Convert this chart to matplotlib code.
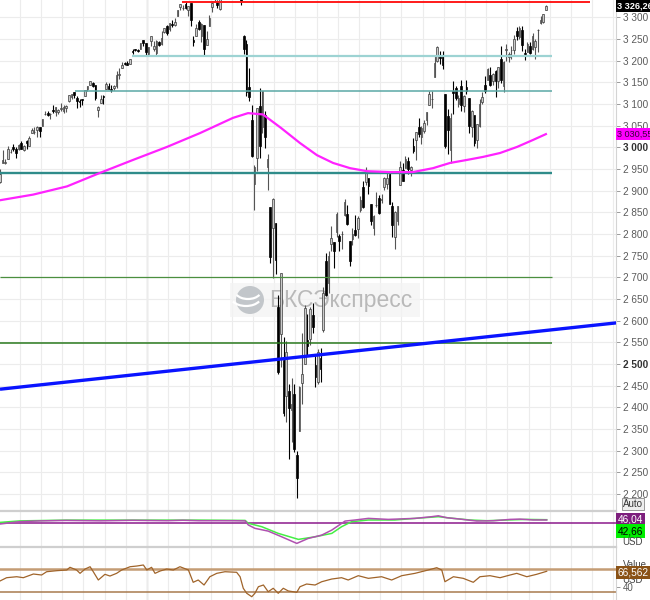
import numpy as np
import matplotlib
matplotlib.use("Agg")
import matplotlib.pyplot as plt
from matplotlib.patches import Rectangle, Ellipse, Arc

plt.rcParams["font.family"] = ["Liberation Sans", "DejaVu Sans"]

# Daily candles, 10 Oct 2019 .. 5 Aug 2020
open_ = [
    2919, 2964, 2965, 2974, 2990, 3001, 2996, 2996, 3011, 2994, 3014, 3003, 3033, 3036, 3039, 3047,
    3050, 3078, 3080, 3076, 3087, 3082, 3081, 3089, 3084, 3090, 3107, 3117, 3128, 3114, 3108, 3112, 3118, 3135, 3145, 3148,
    3144, 3087, 3103, 3119, 3135, 3141, 3135, 3136, 3141, 3166, 3183, 3195, 3195, 3192, 3223, 3226, 3225, 3227, 3248, 3240, 3216,
    3245, 3226, 3218, 3242, 3239, 3267, 3281, 3272, 3285, 3282, 3302, 3324, 3321, 3330, 3316, 3333, 3248, 3256, 3289, 3256, 3282,
    3236, 3281, 3325, 3344, 3335, 3319, 3365, 3370, 3365, 3378, 3369, 3380, 3380, 3360, 3258, 3238, 3140, 3063, 2916,
    2975, 3096, 3046, 3075, 2954, 2863, 2814, 2825, 2631, 2569, 2509, 2426, 2437, 2394, 2431, 2290, 2345, 2457, 2501, 2556, 2558, 2614,
    2499, 2459, 2514, 2578, 2738, 2686, 2776, 2782, 2805, 2795, 2799, 2843, 2846, 2784, 2788, 2810, 2812, 2855, 2909, 2919, 2930,
    2869, 2815, 2868, 2883, 2879, 2908, 2915, 2939, 2865, 2794, 2829, 2914, 2948, 2953, 2969, 2948, 3004, 3016, 3047, 3025,
    3038, 3064, 3098, 3112, 3163, 3199, 3213, 3213, 3124, 3072, 2994, 3131, 3136, 3101, 3141, 3095, 3139, 3114, 3047, 3074, 3018, 3050,
    3105, 3143, 3155, 3166, 3154, 3177, 3153, 3205, 3141, 3225, 3209, 3224, 3224, 3269, 3254, 3271, 3218, 3219, 3234, 3227, 3231, 3270,
    3288, 3289, 3317,
]
high = [
    2949, 2993, 2972, 3003, 2997, 3008, 3000, 3007, 3014, 3005, 3016, 3027, 3044, 3047, 3050, 3047,
    3066, 3085, 3084, 3079, 3098, 3093, 3088, 3102, 3098, 3097, 3120, 3124, 3128, 3119, 3112, 3112, 3133, 3142, 3154, 3150,
    3144, 3095, 3120, 3120, 3151, 3149, 3143, 3144, 3176, 3182, 3198, 3198, 3199, 3205, 3226, 3227, 3226, 3240, 3248, 3241, 3232,
    3258, 3246, 3247, 3245, 3268, 3275, 3282, 3288, 3294, 3298, 3317, 3330, 3329, 3337, 3326, 3334, 3258, 3285, 3293, 3286, 3282,
    3268, 3306, 3337, 3348, 3341, 3352, 3375, 3381, 3385, 3381, 3375, 3393, 3390, 3360, 3260, 3247, 3182, 3098, 2960,
    3090, 3137, 3130, 3083, 2985, 2863, 2883, 2825, 2660, 2711, 2563, 2553, 2454, 2467, 2454, 2300, 2450, 2571, 2637, 2616, 2631, 2642,
    2522, 2534, 2538, 2677, 2756, 2760, 2819, 2782, 2852, 2801, 2807, 2880, 2868, 2785, 2815, 2845, 2842, 2887, 2922, 2954, 2930,
    2869, 2844, 2898, 2891, 2892, 2932, 2944, 2945, 2875, 2853, 2865, 2968, 2964, 2980, 2978, 2957, 3021, 3036, 3068, 3050,
    3063, 3081, 3130, 3129, 3211, 3233, 3223, 3223, 3124, 3088, 3079, 3154, 3141, 3121, 3156, 3120, 3155, 3115, 3086, 3074, 3053, 3111,
    3128, 3165, 3182, 3185, 3172, 3179, 3186, 3235, 3200, 3238, 3220, 3233, 3259, 3277, 3280, 3279, 3227, 3242, 3243, 3264, 3251, 3272,
    3302, 3307, 3328,
]
low = [
    2917, 2963, 2962, 2974, 2986, 2991, 2976, 2995, 2996, 2992, 2996, 3002, 3032, 3031, 3025, 3023,
    3050, 3074, 3072, 3065, 3080, 3073, 3077, 3084, 3079, 3082, 3104, 3112, 3113, 3091, 3094, 3097, 3118, 3131, 3143, 3139,
    3110, 3070, 3103, 3099, 3135, 3135, 3127, 3133, 3138, 3157, 3183, 3191, 3189, 3192, 3216, 3222, 3220, 3227, 3235, 3212, 3212,
    3235, 3222, 3214, 3233, 3236, 3263, 3260, 3268, 3277, 3280, 3302, 3317, 3316, 3320, 3302, 3281, 3234, 3256, 3271, 3242, 3214,
    3236, 3281, 3313, 3335, 3322, 3317, 3352, 3369, 3361, 3367, 3356, 3379, 3342, 3328, 3215, 3118, 3108, 2977, 2855,
    2946, 2976, 3034, 2999, 2901, 2734, 2698, 2707, 2478, 2493, 2380, 2367, 2281, 2320, 2296, 2192, 2345, 2407, 2500, 2520, 2545, 2571,
    2447, 2455, 2459, 2574, 2657, 2664, 2762, 2721, 2794, 2761, 2765, 2842, 2820, 2727, 2775, 2795, 2791, 2852, 2860, 2913, 2892,
    2821, 2798, 2863, 2847, 2871, 2902, 2903, 2869, 2793, 2766, 2821, 2914, 2922, 2953, 2938, 2933, 2988, 2970, 3024, 3008,
    3032, 3052, 3098, 3091, 3163, 3196, 3193, 3181, 2999, 2984, 2965, 3077, 3109, 3093, 3083, 3082, 3124, 3033, 3024, 3004, 2999, 3048,
    3101, 3125, 3155, 3142, 3144, 3116, 3137, 3149, 3128, 3200, 3198, 3205, 3216, 3247, 3249, 3223, 3201, 3219, 3216, 3225, 3204, 3220,
    3284, 3288, 3317,
]
close = [
    2938, 2970, 2966, 2996, 2990, 2997, 2986, 3006, 2996, 3004, 3010, 3022, 3039, 3036, 3046, 3037,
    3066, 3078, 3074, 3076, 3085, 3093, 3087, 3091, 3094, 3096, 3120, 3122, 3120, 3108, 3104, 3110, 3133, 3141, 3153, 3141,
    3113, 3093, 3112, 3117, 3146, 3135, 3132, 3141, 3168, 3169, 3191, 3192, 3191, 3205, 3221, 3224, 3223, 3240, 3240, 3221, 3231,
    3258, 3235, 3246, 3237, 3253, 3275, 3265, 3288, 3283, 3289, 3317, 3330, 3321, 3321, 3326, 3295, 3244, 3276, 3273, 3284, 3226,
    3249, 3298, 3334, 3345, 3328, 3352, 3358, 3379, 3374, 3380, 3370, 3386, 3373, 3338, 3226, 3128, 3116, 2979, 2954,
    3090, 3003, 3130, 3024, 2972, 2747, 2882, 2741, 2481, 2711, 2386, 2529, 2398, 2409, 2305, 2237, 2447, 2476, 2630, 2541, 2627, 2585,
    2471, 2527, 2489, 2664, 2660, 2750, 2790, 2762, 2846, 2783, 2800, 2875, 2823, 2737, 2799, 2798, 2837, 2878, 2863, 2940, 2912,
    2830, 2842, 2868, 2848, 2881, 2930, 2930, 2870, 2820, 2852, 2864, 2954, 2922, 2972, 2949, 2955, 2992, 3036, 3030, 3044,
    3056, 3081, 3123, 3112, 3194, 3232, 3207, 3190, 3002, 3041, 3067, 3125, 3113, 3115, 3098, 3118, 3131, 3050, 3084, 3009, 3053, 3100,
    3116, 3130, 3180, 3145, 3169, 3152, 3185, 3155, 3197, 3227, 3215, 3225, 3251, 3257, 3276, 3236, 3216, 3239, 3218, 3258, 3246, 3271,
    3295, 3307, 3326.26,
]

# moving average (magenta), read at these days
ma_day = [0, 12.5, 25.3, 37.7, 50.2, 63, 75.5, 87.9, 93.6, 99.2, 106, 113.2, 119.6, 125.7, 132.1,
          138.5, 147.2, 155.8, 163.4, 169.8, 176.2, 182.3, 188.7, 195.1, 201.1, 206]
ma_val = [2878, 2891, 2910, 2941, 2971, 3001, 3033, 3068, 3079, 3076, 3045, 3010, 2982, 2964, 2952,
          2945, 2943, 2943, 2952, 2964, 2971, 2978, 2987, 3001, 3017, 3030.55]

# horizontal levels
level_price = [3335, 3211, 3129, 2940, 2700, 2548]
level_start = [68.7, 49.8, 28.3, 0, 0, 0]
level_end = [222.6, 208.3, 208.3, 208.3, 208.3, 208.3]

# trend line
trend_day = [0, 232.5]
trend_price = [2442, 2595]

# upper indicator pane
ind_purple_day = [0, 7.5, 15, 25, 38, 50, 63, 69, 75, 88, 92.5, 93.7, 96.2, 101.2, 106.3, 112,
                  116.3, 121.4, 125.2, 130.2, 134, 139, 146.5, 156.6, 162.9, 165.4, 168.6,
                  173.6, 179.9, 186.2, 192.5, 196.2, 201.2, 206.3]
ind_purple = [39.3, 43.2, 44.5, 45.3, 44.6, 45.5, 44.8, 45.6, 44.8, 44.8, 44.5, 37.7, 32.1, 27.5,
              18, 7, 15.3, 20.8, 29.2, 44.2, 46, 48.7, 47, 48.7, 51.5, 53, 49.8, 47.5, 44.3,
              44.8, 47, 47.5, 46, 46.04]
ind_green_day = [0, 7.5, 25, 50, 75, 92.5, 93.7, 98.8, 105, 112.6, 118.9, 125.2, 128.9, 132.7,
                 139, 149, 156.6, 165.4, 171.1, 177.4, 183.7, 191.2, 198.8, 206.3]
ind_green = [42, 44.5, 45.8, 45.8, 45.8, 45.3, 40.5, 34.8, 23.7, 13.7, 18, 23.7, 34.8, 43.2,
             46, 46, 48.7, 51.5, 48.7, 46, 44.8, 46, 47, 46.5]
ind_level = 40.5

# lower oscillator pane
osc_day = [0, 2.5, 6.3, 8.8, 12.6, 15.7, 17.6, 21.4, 25.2, 26.4, 28.9, 30.2, 32.1, 34, 35.2,
           37.1, 39.6, 41.5, 44, 45.9, 49.1, 51.6, 54.1, 55.4, 57.2, 58.5, 60.4, 62.9, 65.4,
           67.9, 71.1, 72.9, 74.8, 77, 79.2, 81.8, 84.9, 89.3, 90.6, 91.8, 93.1, 95, 96.2,
           97.5, 99.4, 101.2, 103.1, 105, 106.9, 108.8, 112, 113.2, 115.7, 118.9, 121.4,
           125.2, 128.9, 131.4, 135.2, 139, 144, 147.8, 151.6, 156.6, 161.6, 164.8, 166.7,
           167.9, 171.1, 174.8, 178.6, 181.1, 184.9, 188.7, 192.5, 195, 198.8, 202.5, 206.3]
osc_val = [49.7, 55.4, 57.1, 55.4, 61.8, 60.1, 65.8, 67.6, 68.8, 73.5, 68.8, 63.0, 70.5, 74.5,
           65.8, 51.4, 61.3, 58.3, 63.0, 68.8, 74.5, 75.7, 77.5, 68.8, 73.5, 63.0, 67.0, 70.5,
           68.8, 74.5, 68.8, 47.4, 51.4, 42.7, 57.1, 63.0, 65.8, 64.8, 57.1, 37.0, 28.3, 22.3,
           28.3, 39.7, 42.7, 31.0, 37.0, 28.3, 37.0, 32.3, 30.0, 39.7, 44.4, 42.7, 48.4, 53.1,
           55.4, 51.4, 58.9, 54.3, 57.1, 51.4, 58.9, 63.0, 68.8, 72.8, 68.8, 48.4, 57.1, 54.3,
           47.4, 57.1, 58.9, 55.4, 60.1, 63.0, 57.1, 61.3, 66.56]
osc_levels = [70, 30]

W, H = 650, 600
X_MAX = 616 / 2.65          # days visible across the plot width


def fx(x):
    return x / W


def fy(y):
    return 1 - y / H


def thousands(v, _pos=None):
    v = int(round(v))
    return f"{v // 1000} {v % 1000:03d}"


fig = plt.figure(figsize=(6.5, 6), dpi=100)
ax = fig.add_axes([0, fy(511), fx(616), 511 / H])
ax1 = fig.add_axes([0, fy(547.3), fx(616), 36.3 / H], sharex=ax)
ax2 = fig.add_axes([0, 0, fx(616), 52.7 / H], sharex=ax)

grid_x = np.arange(7.5, X_MAX, 8)
for a in (ax, ax1, ax2):
    a.set_xlim(0, X_MAX)
    a.set_xticks(grid_x)
    a.tick_params(axis="x", length=0, labelbottom=False)
    a.grid(axis="x", color="#ececec", lw=0.8, zorder=0)
    for s in a.spines.values():
        s.set_visible(False)
    a.spines["right"].set_visible(True)
    a.spines["right"].set_color("#d4d4d4")
    a.axvline(55.5, color="#cdcdcd", lw=1.0, zorder=0.5)
for a in (ax1, ax2):
    a.spines["top"].set_visible(True)
    a.spines["top"].set_color("#cfcfcf")
    a.spines["top"].set_linewidth(1.6)

# ---- main price pane ----
ax.set_ylim(2161, 3340)
ax.set_yticks(np.arange(2200, 3301, 50))
ax.yaxis.set_major_formatter(plt.FuncFormatter(thousands))
ax.yaxis.tick_right()
ax.tick_params(axis="y", length=3, width=0.6, color="#8c8c8c", labelsize=7.2,
               labelcolor="#5a5a5a", pad=2)
ax.grid(axis="y", color="#ececec", lw=0.8, zorder=0)
for lab in ax.get_yticklabels():
    if lab.get_text() in ("2 500", "3 000"):
        lab.set_fontweight("bold")
        lab.set_color("#333333")

o = np.array(open_, float)
h = np.array(high, float)
l = np.array(low, float)
c = np.array(close, float)
idx = np.arange(len(c))
up = c >= o
ax.vlines(idx[up], l[up], h[up], colors="#555555", lw=0.8, zorder=3)
ax.vlines(idx[~up], l[~up], h[~up], colors="black", lw=0.8, zorder=3)
ax.bar(idx[up], (c - o)[up], bottom=o[up], width=0.62, color="#cacaca",
       edgecolor="#3c3c3c", lw=0.5, zorder=4)
ax.bar(idx[~up], (o - c)[~up], bottom=c[~up], width=0.62, color="black",
       edgecolor="black", lw=0.5, zorder=4)

level_styles = [("#ff1a1a", 1.4), ("#9dd3d3", 1.6), ("#5aa8a5", 1.1),
                ("#2f8c8a", 1.7), ("#4b8f3f", 0.9), ("#2a7a1e", 1.1)]
for p, x0, x1, (col, lw) in zip(level_price, level_start, level_end, level_styles):
    ax.hlines(p, x0, x1, colors=col, lw=lw, zorder=5)

ax.plot(trend_day, trend_price, color="#0a14ff", lw=2.4, zorder=6, solid_capstyle="butt")
ax.plot(ma_day, ma_val, color="#ff22ff", lw=1.6, zorder=5)

# watermark
wm_kw = dict(transform=fig.transFigure, zorder=2)
ax.add_patch(Rectangle((fx(230), fy(317)), 190 / W, 34 / H, fc="#f3f3f3", ec="none",
                       alpha=0.75, **wm_kw))
ax.add_patch(Ellipse((fx(250), fy(300)), 28 / W, 28 / H, fc="#c2c6ca", ec="none", **wm_kw))
ax.add_patch(Arc((fx(246), fy(297)), 30 / W, 18 / H, theta1=200, theta2=340,
                 color="white", lw=1.6, **wm_kw))
ax.add_patch(Arc((fx(248), fy(291)), 26 / W, 16 / H, theta1=200, theta2=340,
                 color="white", lw=1.6, **wm_kw))
ax.text(fx(341), fy(301), "БКСЭкспресс", ha="center", va="center", fontsize=16.5,
        color="#b9b9b9", **wm_kw)

# right side value boxes
ytr = ax.get_yaxis_transform()
ax.text(1.002, 3326.26, "3 326,26", transform=ytr, ha="left", va="center", fontsize=6.6,
        color="white", fontweight="bold", clip_on=False, zorder=10,
        bbox=dict(boxstyle="square,pad=0.15", fc="black", ec="none"))
ax.text(1.002, 3030.55, "3 030,55", transform=ytr, ha="left", va="center", fontsize=6.6,
        color="#3a003a", clip_on=False, zorder=10,
        bbox=dict(boxstyle="square,pad=0.15", fc="#ff00ff", ec="none"))
fig.text(fx(623), fy(504), "Auto", fontsize=7, color="#333333", va="center",
         bbox=dict(boxstyle="square,pad=0.15", fc="#eeeeee", ec="#8a8a8a", lw=0.6))

# ---- upper indicator pane ----
ax1.set_ylim(0.5, 61)
ax1.set_yticks([])
ax1.axhline(ind_level, color="#8b1a8b", lw=1.1, zorder=2)
ax1.plot(ind_green_day, ind_green, color="#44ee44", lw=1.1, zorder=3)
ax1.plot(ind_purple_day, ind_purple, color="#b050b0", lw=1.1, zorder=4)
fig.text(fx(618), fy(520), "46,04", fontsize=7.3, color="white", va="center",
         bbox=dict(boxstyle="square,pad=0.15", fc="#7d1f7d", ec="none"))
fig.text(fx(618), fy(531), "42,66", fontsize=7.3, color="black", va="center",
         bbox=dict(boxstyle="square,pad=0.15", fc="#00ee00", ec="none"))
fig.text(fx(622), fy(542), "USD", fontsize=7, color="#444444", va="center")

# ---- lower oscillator pane ----
ax2.set_ylim(16.6, 108.3)
ax2.yaxis.tick_right()
ax2.set_yticks([40])
ax2.set_yticklabels(["40"])
ax2.tick_params(axis="y", length=3, width=0.6, color="#8c8c8c", labelsize=7,
                labelcolor="#5a5a5a", pad=2)
ax2.axhline(osc_levels[0], color="#c49c74", lw=1.8, zorder=2)
ax2.axhline(osc_levels[1], color="#a87a4e", lw=1.1, zorder=2)
ax2.plot(osc_day, osc_val, color="#a0642a", lw=0.9, zorder=3)
fig.text(fx(623), fy(565), "Value", fontsize=7, color="#444444", va="center")
fig.text(fx(622), fy(580), "USD", fontsize=7, color="#444444", va="center")
fig.text(fx(618), fy(572.7), "66,562", fontsize=7.3, color="white", va="center",
         bbox=dict(boxstyle="square,pad=0.15", fc="#8a5216", ec="none"))

fig.savefig("out.png", dpi=100)
